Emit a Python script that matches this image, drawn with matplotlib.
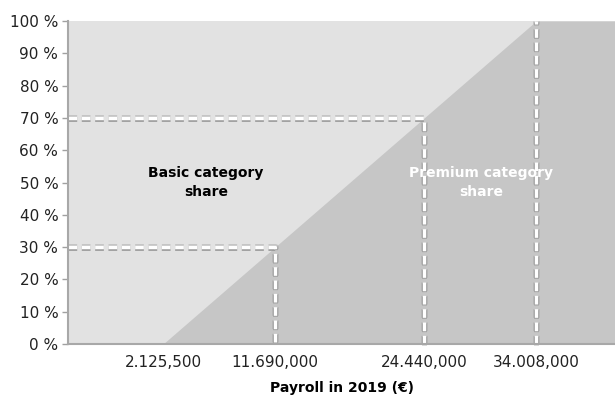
import matplotlib.pyplot as plt
import matplotlib.patheffects as pe

# payroll thresholds (x) and the premium share reached there (y, %)
payroll = [2125500, 11690000, 24440000, 34008000]
premium_share = [0, 30, 70, 100]
tick_labels = ["2.125,500", "11.690,000", "24.440,000", "34.008,000"]
y_ticks = list(range(0, 101, 10))

x_min, x_max = -6.0e6, 40.75e6

fig = plt.figure(figsize=(6.15, 3.98), dpi=100)
ax = fig.add_axes([0.1106, 0.1357, 0.8894, 0.8115])

ax.set_facecolor("#e2e2e2")
fill_x = [payroll[0], payroll[-1], x_max]
fill_y = [premium_share[0], premium_share[-1], 100]
ax.fill_between(fill_x, 0, fill_y, color="#c6c6c6", lw=0, zorder=1)

dash_fx = [pe.Stroke(linewidth=5, foreground="#a0a0a0", alpha=0.45),
           pe.Stroke(linewidth=3.6, foreground="#8c8c8c", alpha=0.6, offset=(0, -0.7)),
           pe.Normal()]
def dashed(xs, ys):
    ax.plot(xs, ys, color="white", lw=2.4, dashes=(2.6, 1.4),
            dash_capstyle="butt", path_effects=dash_fx, zorder=3, clip_on=False)

# 30 % and 70 % guides
for px, py in zip(payroll[1:3], premium_share[1:3]):
    dashed([x_min, px, px], [py, py, 0])
# full coverage line
dashed([payroll[3], payroll[3]], [0, 100])

ax.text(5.8e6, 50, "Basic category\nshare", ha="center", va="center",
        fontsize=10, fontweight="bold", color="black", linespacing=1.5, zorder=4)
ax.text(29.3e6, 50, "Premium category\nshare", ha="center", va="center",
        fontsize=10, fontweight="bold", color="white", linespacing=1.5, zorder=4)

ax.set_xlim(x_min, x_max)
ax.set_ylim(0, 100)
ax.set_xticks(payroll)
ax.set_xticklabels(tick_labels, fontsize=11, color="#222222")
ax.set_yticks(y_ticks)
ax.set_yticklabels([f"{v} %" for v in y_ticks], fontsize=11, color="#222222")
ax.tick_params(axis="x", length=0, pad=8)
ax.tick_params(axis="y", length=4, color="#a0a0a0", width=1, pad=3)

for s in ["top", "right"]:
    ax.spines[s].set_visible(False)
for s in ["left", "bottom"]:
    ax.spines[s].set_color("#a8a8a8")
    ax.spines[s].set_linewidth(1.5)
    ax.spines[s].set_zorder(5)

ax.set_xlabel("Payroll in 2019 (€)", fontsize=10, fontweight="bold", labelpad=8)

fig.savefig("out.png", dpi=100)
